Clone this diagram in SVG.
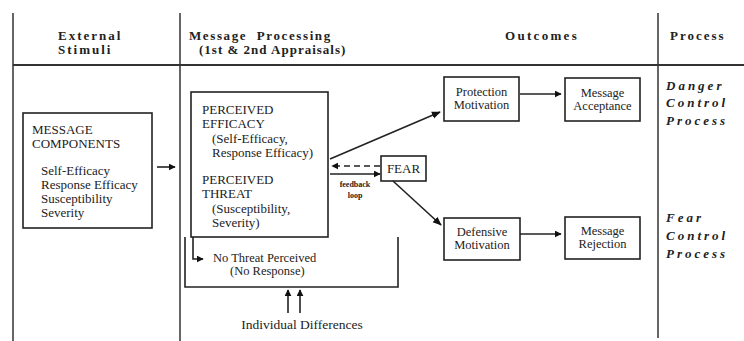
<svg xmlns="http://www.w3.org/2000/svg" width="744" height="341" viewBox="0 0 744 341">
<defs>
<marker id="ah" viewBox="0 0 10 10" refX="9" refY="5" markerWidth="7" markerHeight="7" markerUnits="userSpaceOnUse" orient="auto"><path d="M0,0 L10,5 L0,10 z" fill="#111"/></marker>
<marker id="ahb" viewBox="0 0 10 10" refX="9" refY="5" markerWidth="9" markerHeight="9" markerUnits="userSpaceOnUse" orient="auto"><path d="M0,1 L10,5 L0,9 z" fill="#111"/></marker>
</defs>
<style>
text{font-family:"Liberation Serif","Times New Roman",serif;fill:#222}
.hd{font-size:13px;font-weight:bold;letter-spacing:2px}
.bx{fill:#fff;stroke:#222;stroke-width:1.6}
.t{font-size:13px}
.s{font-size:12.5px}
.it{font-size:13px;font-style:italic;font-weight:bold;letter-spacing:3px}
.ln{stroke:#222;stroke-width:1.6;fill:none}
.fr{stroke:#333;stroke-width:1.5;fill:none}
</style>
<rect width="744" height="341" fill="#fff"/>
<g id="frame">
<line class="fr" x1="13" y1="13" x2="13" y2="341"/>
<line class="fr" x1="180" y1="13" x2="180" y2="341"/>
<line class="fr" x1="658" y1="13" x2="658" y2="338"/>
<line x1="13" y1="65" x2="744" y2="65" stroke="#333" stroke-width="2.2"/>
<text class="hd" x="58" y="40">External</text>
<text class="hd" x="58" y="54">Stimuli</text>
<text class="hd" x="189" y="40" style="letter-spacing:1.6px" xml:space="preserve">Message  Processing</text>
<text class="hd" x="199" y="54" style="letter-spacing:1px">(1st &amp; 2nd Appraisals)</text>
<text class="hd" x="505" y="40" style="letter-spacing:2.3px">Outcomes</text>
<text class="hd" x="670" y="40">Process</text>
<text class="it" x="666" y="90">Danger</text>
<text class="it" x="666" y="107">Control</text>
<text class="it" x="666" y="125">Process</text>
<text class="it" x="666" y="222">Fear</text>
<text class="it" x="666" y="240">Control</text>
<text class="it" x="666" y="258">Process</text>
</g>
<g id="message-components">
<rect class="bx" x="23" y="113" width="129" height="115"/>
<text class="t" x="32" y="134">MESSAGE</text>
<text class="t" x="32" y="148">COMPONENTS</text>
<text class="t" x="41" y="175">Self-Efficacy</text>
<text class="t" x="41" y="189">Response Efficacy</text>
<text class="t" x="41" y="203">Susceptibility</text>
<text class="t" x="41" y="217">Severity</text>
</g>
<g id="perceived">
<rect class="bx" x="191" y="92" width="137" height="145"/>
<text class="t" x="202" y="114">PERCEIVED</text>
<text class="t" x="202" y="128">EFFICACY</text>
<text class="t" x="212" y="143">(Self-Efficacy,</text>
<text class="t" x="212" y="157">Response Efficacy)</text>
<text class="t" x="202" y="184">PERCEIVED</text>
<text class="t" x="202" y="198">THREAT</text>
<text class="t" x="212" y="213">(Susceptibility,</text>
<text class="t" x="212" y="227">Severity)</text>
</g>
<g id="fear">
<rect class="bx" x="381" y="156" width="45" height="25"/>
<text class="t" x="403.5" y="173" text-anchor="middle">FEAR</text>
</g>
<g id="protection-motivation">
<rect class="bx" x="444" y="77" width="75" height="44"/>
<text class="s" x="481.5" y="96" text-anchor="middle">Protection</text>
<text class="s" x="481.5" y="109" text-anchor="middle">Motivation</text>
</g>
<g id="message-acceptance">
<rect class="bx" x="565" y="78" width="75" height="43"/>
<text class="s" x="602.5" y="97" text-anchor="middle">Message</text>
<text class="s" x="602.5" y="110" text-anchor="middle">Acceptance</text>
</g>
<g id="defensive-motivation">
<rect class="bx" x="444" y="218" width="76" height="42"/>
<text class="s" x="482" y="236" text-anchor="middle">Defensive</text>
<text class="s" x="482" y="249" text-anchor="middle">Motivation</text>
</g>
<g id="message-rejection">
<rect class="bx" x="565" y="217" width="75" height="42"/>
<text class="s" x="602.5" y="235" text-anchor="middle">Message</text>
<text class="s" x="602.5" y="248" text-anchor="middle">Rejection</text>
</g>
<g id="labels">
<text x="355" y="187" font-size="8" text-anchor="middle" font-weight="bold">feedback</text>
<text x="355" y="198" font-size="8" text-anchor="middle" font-weight="bold">loop</text>
<text class="s" x="213" y="262" font-size="11">No Threat Perceived</text>
<text class="s" x="230" y="275" font-size="11">(No Response)</text>
<text x="302" y="329" font-size="13.5" text-anchor="middle">Individual Differences</text>
</g>
<g id="connectors">
<line class="ln" x1="157" y1="167" x2="175" y2="167" marker-end="url(#ah)"/>
<line class="ln" x1="330" y1="159" x2="440" y2="112" marker-end="url(#ahb)"/>
<line class="ln" x1="330" y1="174" x2="380" y2="174" marker-end="url(#ah)"/>
<line class="ln" x1="380" y1="166" x2="332" y2="166" stroke-dasharray="6,4" marker-end="url(#ah)"/>
<line class="ln" x1="393" y1="181" x2="441" y2="225" marker-end="url(#ahb)"/>
<line class="ln" x1="520" y1="94" x2="561" y2="94" marker-end="url(#ah)"/>
<line class="ln" x1="520" y1="234" x2="561" y2="234" marker-end="url(#ah)"/>
<polyline class="ln" points="185,237 185,287 398,287 398,237"/>
<polyline class="ln" points="193,237 193,259 203,259" marker-end="url(#ah)"/>
<line class="ln" x1="288" y1="313" x2="288" y2="290" marker-end="url(#ah)"/>
<line class="ln" x1="300" y1="313" x2="300" y2="290" marker-end="url(#ah)"/>
</g>
</svg>
